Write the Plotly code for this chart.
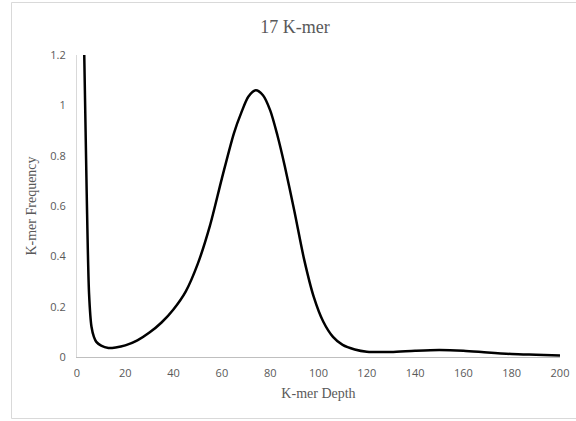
import plotly.graph_objects as go

depth = [3, 4, 5, 6, 7, 8, 10, 13, 16, 20, 25, 30, 35, 40, 45, 50, 55, 60, 65, 68, 71, 74,
         77, 80, 83, 86, 90, 94, 98, 102, 106, 110, 115, 120, 130, 140, 150, 160, 170, 180, 190, 200]
freq = [1.2, 0.66, 0.25, 0.12, 0.08, 0.06, 0.045, 0.036, 0.038, 0.046, 0.066, 0.097, 0.137, 0.19,
        0.26, 0.37, 0.52, 0.71, 0.89, 0.97, 1.035, 1.06,
        1.04, 0.98, 0.88, 0.76, 0.58, 0.39, 0.24, 0.14, 0.08, 0.048, 0.03, 0.021, 0.02, 0.025, 0.028,
        0.025, 0.018, 0.012, 0.009, 0.006]

x_ticks = [0, 20, 40, 60, 80, 100, 120, 140, 160, 180, 200]
y_ticks = [0, 0.2, 0.4, 0.6, 0.8, 1, 1.2]
y_tick_labels = ["0", "0.2", "0.4", "0.6", "0.8", "1", "1.2"]

W, H = 576, 421
L, R, T, B = 77, 16, 55, 64
pw, ph = W - L - R, H - T - B

def px2paper_x(px):
    return (px - L) / pw

def py2paper_y(py):
    return (H - B - py) / ph

fig = go.Figure()
fig.add_trace(go.Scatter(x=depth, y=freq, mode="lines",
                         line=dict(color="black", width=2.5, shape="spline", smoothing=0.8),
                         showlegend=False, hoverinfo="skip"))

tick_font = dict(family="Open Sans, Liberation Sans, sans-serif", size=11, color="#595959")
serif = "Liberation Serif, Times New Roman, serif"

border = dict(color="#d9d9d9", width=1)
bx0, bx1 = px2paper_x(11.5), px2paper_x(576)
by0, by1 = py2paper_y(418.5), py2paper_y(2.5)

fig.update_layout(
    width=W, height=H,
    margin=dict(l=L, r=R, t=T, b=B, autoexpand=False),
    paper_bgcolor="white", plot_bgcolor="white",
    title=dict(text="17 K-mer", x=px2paper_x(295), xref="paper", xanchor="center",
               y=1 - 27 / H, yanchor="middle", automargin=False,
               font=dict(family=serif, size=18, color="#595959")),
    xaxis=dict(range=[0, 200], tickvals=x_ticks, ticktext=[str(v) for v in x_ticks],
               showgrid=False, zeroline=False, showline=True, linecolor="#bfbfbf", linewidth=1,
               ticks="", tickfont=tick_font, ticklabelstandoff=6, automargin=False,
               title=dict(text="K-mer Depth", font=dict(family=serif, size=14, color="#595959"),
                          standoff=8)),
    yaxis=dict(range=[0, 1.2], tickvals=y_ticks, ticktext=y_tick_labels,
               showgrid=False, zeroline=False, showline=True, linecolor="#d9d9d9", linewidth=1,
               ticks="", tickfont=tick_font, ticklabelstandoff=8, automargin=False,
               title=dict(text="K-mer Frequency", font=dict(family=serif, size=14, color="#595959"),
                          standoff=10)),
    shapes=[
        dict(type="line", xref="paper", yref="paper", x0=bx0, x1=bx0, y0=by0, y1=by1, line=border, layer="below"),
        dict(type="line", xref="paper", yref="paper", x0=bx0, x1=bx1, y0=by1, y1=by1, line=border, layer="below"),
        dict(type="line", xref="paper", yref="paper", x0=bx0, x1=bx1, y0=by0, y1=by0, line=border, layer="below"),
    ],
)

fig.write_html("out.html", config={"displayModeBar": False},
               post_script="document.body.style.margin='0px';document.body.style.overflow='hidden';")
